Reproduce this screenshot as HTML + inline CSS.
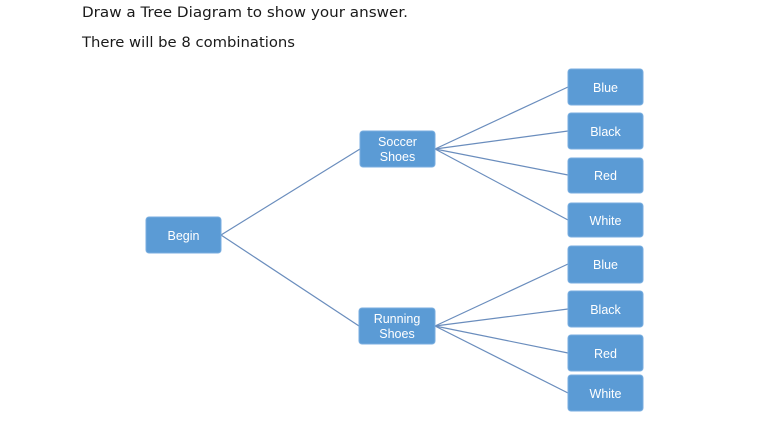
<!DOCTYPE html>
<html>
<head>
<meta charset="utf-8">
<style>
html,body{margin:0;padding:0;background:#fff;}
body{width:780px;height:430px;overflow:hidden;}
svg{display:block;}
.t{font-family:"DejaVu Sans","Liberation Sans",sans-serif;font-size:14px;fill:#1a1a1a;}
.b{font-family:"Liberation Sans",sans-serif;font-size:12.5px;fill:#ffffff;text-anchor:middle;}
rect.n{fill:#5b9bd5;stroke:#7aaee0;stroke-width:1;}
line{stroke:#6a8dbd;stroke-width:1.2;}
</style>
</head>
<body>
<svg width="780" height="430" viewBox="0 0 780 430" xmlns="http://www.w3.org/2000/svg">
<text class="t" x="82" y="17" textLength="326" lengthAdjust="spacingAndGlyphs">Draw a Tree Diagram to show your answer.</text>
<text class="t" x="82" y="47" textLength="213" lengthAdjust="spacingAndGlyphs">There will be 8 combinations</text>

<!-- connectors -->
<line x1="221" y1="235" x2="360" y2="149"/>
<line x1="221" y1="235" x2="359" y2="326"/>

<line x1="435" y1="149" x2="568" y2="87"/>
<line x1="435" y1="149" x2="568" y2="131"/>
<line x1="435" y1="149" x2="568" y2="175"/>
<line x1="435" y1="149" x2="568" y2="220"/>

<line x1="435" y1="326" x2="568" y2="264"/>
<line x1="435" y1="326" x2="568" y2="309"/>
<line x1="435" y1="326" x2="568" y2="353"/>
<line x1="435" y1="326" x2="568" y2="393"/>

<!-- nodes -->
<rect class="n" x="146" y="217" width="75" height="36" rx="3"/>
<text class="b" x="183.5" y="240">Begin</text>

<rect class="n" x="360" y="131" width="75" height="36" rx="3"/>
<text class="b" x="397.5" y="146">Soccer</text>
<text class="b" x="397.5" y="161">Shoes</text>

<rect class="n" x="359" y="308" width="76" height="36" rx="3"/>
<text class="b" x="397" y="323">Running</text>
<text class="b" x="397" y="338">Shoes</text>

<rect class="n" x="568" y="69" width="75" height="36" rx="3"/>
<text class="b" x="605.5" y="92">Blue</text>
<rect class="n" x="568" y="113" width="75" height="36" rx="3"/>
<text class="b" x="605.5" y="136">Black</text>
<rect class="n" x="568" y="158" width="75" height="35" rx="3"/>
<text class="b" x="605.5" y="180">Red</text>
<rect class="n" x="568" y="203" width="75" height="34" rx="3"/>
<text class="b" x="605.5" y="225">White</text>

<rect class="n" x="568" y="246" width="75" height="37" rx="3"/>
<text class="b" x="605.5" y="269">Blue</text>
<rect class="n" x="568" y="291" width="75" height="36" rx="3"/>
<text class="b" x="605.5" y="314">Black</text>
<rect class="n" x="568" y="335" width="75" height="36" rx="3"/>
<text class="b" x="605.5" y="358">Red</text>
<rect class="n" x="568" y="375" width="75" height="36" rx="3"/>
<text class="b" x="605.5" y="398">White</text>
</svg>
</body>
</html>
